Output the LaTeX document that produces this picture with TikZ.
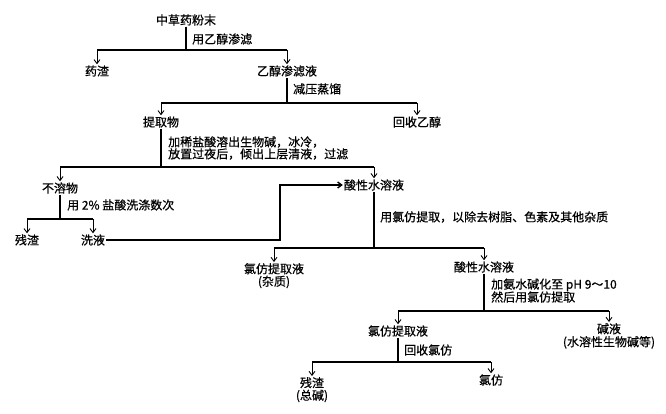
\documentclass[tikz,border=0pt]{standalone}
\usepackage{fontspec}
\setmainfont{Noto Sans CJK SC}[FakeBold=0.6]
\usetikzlibrary{arrows.meta}
\begin{document}
\begin{tikzpicture}[x=1pt,y=-1pt,
  txt/.style={inner sep=1pt,font=\fontsize{12}{12.5}\selectfont,align=center},
  lbl/.style={inner sep=0pt,anchor=west,font=\fontsize{12}{12}\selectfont},
  ln/.style={line width=1.4pt},
  arr/.style={line width=0.9pt,-{Straight Barb[length=4pt,width=6pt]}}]
\useasboundingbox (0,0) rectangle (666,413);
% nodes
\node[txt] (n0) at (186,20) {中草药粉末};
\node[txt] (n1) at (97,71) {药渣};
\node[txt] (n2) at (287,71) {乙醇渗滤液};
\node[txt] (n3) at (161,122) {提取物};
\node[txt] (n4) at (417,122) {回收乙醇};
\node[txt] (n5) at (60,188) {不溶物};
\node[txt] (n6) at (374,185) {酸性水溶液};
\node[txt] (n7) at (27,240) {残渣};
\node[txt] (n8) at (93,240) {洗液};
\node[txt,anchor=north] (n9) at (274,262) {氯仿提取液\\(杂质)};
\node[txt] (n10) at (484,267) {酸性水溶液};
\node[txt] (n11) at (398,331) {氯仿提取液};
\node[txt,anchor=north,font=\fontsize{12}{13}\selectfont] (n12) at (609,322) {碱液\\(水溶性生物碱等)};
\node[txt,anchor=north] (n13) at (312,376) {残渣\\(总碱)};
\node[txt] (n14) at (491,380) {氯仿};
% labels
\node[lbl] (l0) at (192,39) {用乙醇渗滤};
\node[lbl] (l1) at (293,89) {减压蒸馏};
\node[lbl] (l2a) at (168,142) {加稀盐酸溶出生物碱，冰冷，};
\node[lbl] (l2b) at (168,154) {放置过夜后，倾出上层清液，过滤};
\node[lbl] (l3) at (67,205) {用 2\% 盐酸洗涤数次};
\node[lbl] (l4) at (380,217) {用氯仿提取，以除去树脂、色素及其他杂质};
\node[lbl] (l5a) at (491,285) {加氨水碱化至 pH 9～10};
\node[lbl] (l5b) at (491,297) {然后用氯仿提取};
\node[lbl] (l6) at (404,350) {回收氯仿};
% bar coordinates
\coordinate (b0) at (186,50); \coordinate (b0l) at (97,50); \coordinate (b0r) at (287,50);
\coordinate (b1) at (287,103); \coordinate (b1l) at (161,103); \coordinate (b1r) at (417,103);
\coordinate (b2) at (161,167); \coordinate (b2l) at (60,167); \coordinate (b2r) at (374,167);
\coordinate (b3) at (60,219); \coordinate (b3l) at (27,219); \coordinate (b3r) at (93,219);
\coordinate (b4) at (374,248); \coordinate (b4l) at (274,248); \coordinate (b4r) at (484,248);
\coordinate (b5) at (484,311); \coordinate (b5l) at (398,311); \coordinate (b5r) at (609,311);
\coordinate (b6) at (398,362); \coordinate (b6l) at (312,362); \coordinate (b6r) at (491,362);
\coordinate (k1) at (280,240); \coordinate (k2) at (280,185);
% trunks and bars
\draw[ln] (n0) -- (b0); \draw[ln] (b0l) -- (b0r);
\draw[ln] (n2) -- (b1); \draw[ln] (b1l) -- (b1r);
\draw[ln] (n3) -- (b2); \draw[ln] (b2l) -- (b2r);
\draw[ln] (n5) -- (b3); \draw[ln] (b3l) -- (b3r);
\draw[ln] (n6) -- (b4); \draw[ln] (b4l) -- (b4r);
\draw[ln] (n10) -- (b5); \draw[ln] (b5l) -- (b5r);
\draw[ln] (n11) -- (b6); \draw[ln] (b6l) -- (b6r);
% arrows
\draw[arr] (b0l) -- (n1); \draw[arr] (b0r) -- (n2);
\draw[arr] (b1l) -- (n3); \draw[arr] (b1r) -- (n4);
\draw[arr] (b2l) -- (n5); \draw[arr] (b2r) -- (n6);
\draw[arr] (b3l) -- (n7); \draw[arr] (b3r) -- (n8);
\draw[arr] (b4l) -- (n9); \draw[arr] (b4r) -- (n10);
\draw[arr] (b5l) -- (n11); \draw[arr] (b5r) -- (n12);
\draw[arr] (b6l) -- (n13); \draw[arr] (b6r) -- (n14);
\draw[ln,-{Straight Barb[length=4pt,width=6pt]}] (n8) -- (k1) -- (k2) -- (n6);
\end{tikzpicture}
\end{document}
